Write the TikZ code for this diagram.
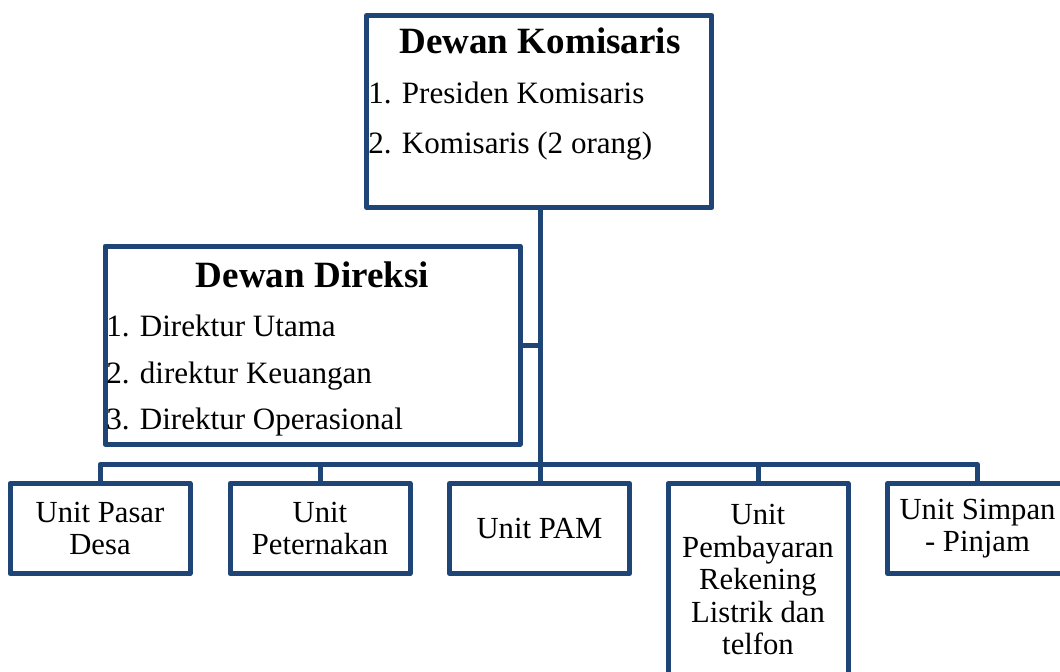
\documentclass[tikz,border=0pt]{standalone}
\usepackage{fontspec}
\setmainfont{Liberation Serif}
\definecolor{orgblue}{RGB}{31,69,118}
\tikzset{
  box/.style={draw=orgblue, line width=3.75pt, line join=round, rectangle, inner sep=0pt},
  unit/.style={box, minimum width=135pt, minimum height=67.5pt, align=center,
    font=\fontsize{23}{24.3}\selectfont},
  head/.style={anchor=base, inner sep=0pt, font=\fontsize{27.8}{30}\selectfont\bfseries},
  item/.style={anchor=base west, inner sep=0pt, font=\fontsize{23.3}{26}\selectfont},
  link/.style={draw=orgblue, line width=3.75pt, line join=round}
}
\begin{document}
\begin{tikzpicture}[x=0.75pt,y=-0.75pt]
  \useasboundingbox (0,0) rectangle (1060,671);
  \clip (0,0) rectangle (1060,671);
  % dewan komisaris
  \node[box, minimum width=259.1pt, minimum height=144pt] (kom) at (539.25,111.5) {};
  \node[head] (komhead) at (540,53) {Dewan Komisaris};
  \node[item] (kom1) at (368,103) {1. Presiden Komisaris};
  \node[item] (kom2) at (368,153) {2. Komisaris (2 orang)};
  % dewan direksi
  \node[box, minimum width=311.25pt, minimum height=148.5pt] (dir) at (312.5,345) {};
  \node[head] (dirhead) at (312.5,287) {Dewan Direksi};
  \node[item] (dir1) at (106,336) {1. Direktur Utama};
  \node[item] (dir2) at (106,383) {2. direktur Keuangan};
  \node[item] (dir3) at (106,429) {3. Direktur Operasional};
  % units
  \node[unit] (pasar) at (100,528.5) {Unit Pasar\\Desa};
  \node[unit] (ternak) at (320,528.5) {Unit\\Peternakan};
  \node[unit] (pam) at (539.5,528.5) {Unit PAM};
  \node[unit, minimum height=144.4pt] (bayar) at (758,579.75)
    {Unit\\Pembayaran\\Rekening\\Listrik dan\\telfon};
  \node[unit] (simpan) at (977.5,528.5) {Unit Simpan\\- Pinjam};
  \coordinate (bus) at (540,464.5);
  \begin{scope}[link]
    \draw (kom.south -| bus) -- (pam.north -| bus);
    \draw (dir.east) -- (dir.east -| bus);
    \draw (pasar.north) |- (bus) -| (simpan.north);
    \draw (ternak.north) -- (ternak.north |- bus);
    \draw (bayar.north) -- (bayar.north |- bus);
  \end{scope}
\end{tikzpicture}
\end{document}
